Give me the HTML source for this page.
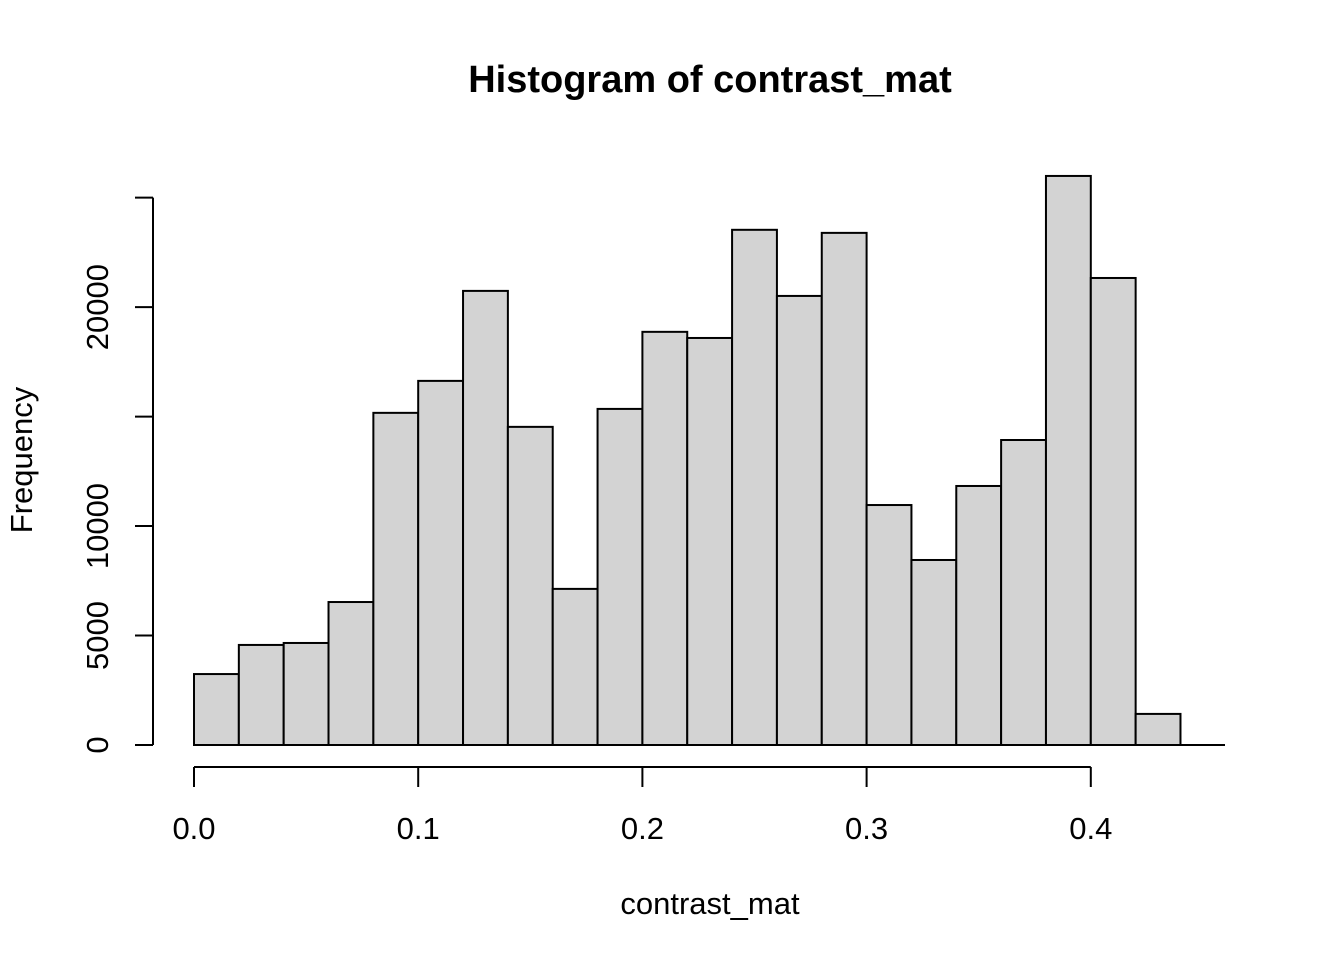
<!DOCTYPE html>
<html><head><meta charset="utf-8"><style>
body{margin:0;background:#fff}
svg text{font-family:"Liberation Sans",Arial,sans-serif;fill:#000}
</style></head><body>
<svg id="chart" width="1344" height="960" xmlns="http://www.w3.org/2000/svg">
<text x="710" y="92" text-anchor="middle" font-size="38" font-weight="bold">Histogram of contrast_mat</text>
<text x="710" y="914" text-anchor="middle" font-size="31">contrast_mat</text>
<text transform="translate(32,460) rotate(-90)" text-anchor="middle" font-size="31">Frequency</text>
<g id="bars"></g><g id="axes"></g>
</svg>
<script>
const binStarts=[0,0.02,0.04,0.06,0.08,0.10,0.12,0.14,0.16,0.18,0.20,0.22,0.24,0.26,0.28,0.30,0.32,0.34,0.36,0.38,0.40,0.42];
const counts=[3240,4570,4660,6530,15170,16630,20740,14530,7130,15350,18870,18590,23530,20510,23390,10960,8450,11830,13930,25990,21330,1420];
const xTicks=[0,0.1,0.2,0.3,0.4];
const xTickLabels=["0.0","0.1","0.2","0.3","0.4"];
const yTicks=[0,5000,10000,15000,20000,25000];
const yTickLabels=["0","5000","10000","","20000",""];
const binWidth=0.02;
const X=v=>194+v*2242;
const Y=v=>745-v*0.021895;
const NS="http://www.w3.org/2000/svg";
function mk(t,a,p){const e=document.createElementNS(NS,t);for(const k in a)e.setAttribute(k,a[k]);p.appendChild(e);return e;}
const bars=document.getElementById('bars'),axes=document.getElementById('axes');
counts.forEach((c,i)=>{
 const r=mk('rect',{x:X(binStarts[i]),y:Y(c),width:X(binStarts[i]+binWidth)-X(binStarts[i]),height:Y(0)-Y(c),fill:'#d3d3d3',stroke:'#000','stroke-width':2},bars);
 
 
});
const base=mk('line',{x1:X(0),x2:1225,y1:Y(0),y2:Y(0),stroke:'#000','stroke-width':2},axes);


const xa=mk('line',{x1:X(xTicks[0]),x2:X(xTicks[xTicks.length-1]),y1:767,y2:767,stroke:'#000','stroke-width':2},axes);


xTicks.forEach((t,i)=>{
 mk('line',{x1:X(t),x2:X(t),y1:767,y2:787,stroke:'#000','stroke-width':2},axes);
 const tx=mk('text',{x:X(t),y:839,'text-anchor':'middle','font-size':31},axes);
 tx.textContent=xTickLabels[i];
 
 
});
const ya=mk('line',{x1:153,x2:153,y1:Y(yTicks[0]),y2:Y(yTicks[yTicks.length-1]),stroke:'#000','stroke-width':2},axes);


yTicks.forEach((t,i)=>{
 mk('line',{x1:135,x2:153,y1:Y(t),y2:Y(t),stroke:'#000','stroke-width':2},axes);
 if(yTickLabels[i]){
  const tx=mk('text',{transform:`translate(108,${Y(t)}) rotate(-90)`,'text-anchor':'middle','font-size':31},axes);
  tx.textContent=yTickLabels[i];
  
  
 }
});
</script>
</body></html>
